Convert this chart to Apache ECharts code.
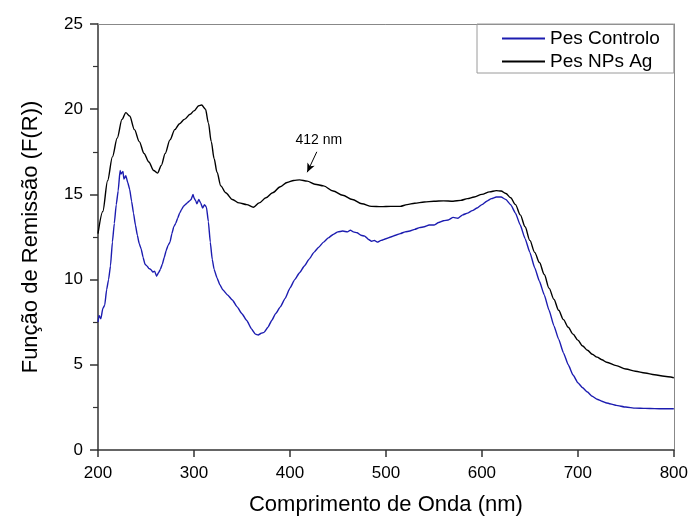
<!DOCTYPE html>
<html><head><meta charset="utf-8">
<script src="https://cdn.jsdelivr.net/npm/echarts@6/dist/echarts.min.js"></script>
<style>html,body{margin:0;padding:0;background:#fff}#c{width:691px;height:521px}</style>
</head><body><div id="c"></div>
<script>
const seriesNames = ['Pes Controlo', 'Pes NPs Ag'];
const xTicks = [200, 300, 400, 500, 600, 700, 800];
const yTicks = [0, 5, 10, 15, 20, 25];
const ctrlX = [200,201,203,205,207,209,211,213,215,217,219,221,223,224,226,227,229,231,233,235,237,239,241,243,245,247,249,251,253,255,257,259,261,263,265,267,269,271,273,275,277,279,281,283,285,287,289,291,293,295,297,299,300,302,303,305,307,309,311,313,315,317,319,321,324,327,330,335,340,345,350,355,360,364,367,370,373,377,381,385,390,395,400,405,410,415,420,425,430,435,440,445,450,455,460,463,466,470,474,478,482,485,488,491,495,500,505,510,515,520,525,530,535,540,545,550,555,560,565,570,575,580,585,590,595,600,605,610,615,620,625,630,635,640,645,650,655,660,665,670,675,680,685,690,695,700,705,710,715,720,725,730,740,750,760,770,780,790,800];
const ctrlY = [7.5,7.9,7.7,8.3,8.5,9.4,10.0,10.8,12.2,13.3,14.4,15.2,16.4,16.2,16.35,15.9,16.1,15.7,15.3,14.6,13.9,13.2,12.6,12.1,11.8,11.3,10.9,10.8,10.65,10.6,10.45,10.5,10.2,10.4,10.6,10.9,11.3,11.7,12.0,12.2,12.7,13.1,13.3,13.6,13.9,14.1,14.3,14.4,14.5,14.6,14.7,15.0,14.8,14.6,14.45,14.7,14.5,14.2,14.4,14.25,13.4,12.2,11.2,10.6,10.1,9.7,9.4,9.1,8.8,8.4,8.0,7.6,7.1,6.8,6.75,6.85,6.9,7.2,7.6,8.0,8.4,8.9,9.5,10.0,10.4,10.8,11.2,11.6,11.9,12.2,12.45,12.65,12.8,12.85,12.8,12.9,12.8,12.75,12.6,12.55,12.35,12.25,12.3,12.2,12.3,12.4,12.5,12.6,12.7,12.8,12.85,12.95,13.05,13.1,13.2,13.2,13.35,13.45,13.5,13.65,13.6,13.8,13.9,14.05,14.2,14.4,14.6,14.75,14.85,14.85,14.7,14.4,13.9,13.2,12.4,11.6,10.7,9.9,9.1,8.2,7.3,6.5,5.7,5.0,4.4,3.95,3.65,3.4,3.15,2.98,2.86,2.76,2.62,2.52,2.46,2.44,2.43,2.42,2.42];
const agX = [200,205,210,215,220,225,229,233,238,243,248,253,258,262,266,270,275,280,285,290,296,300,305,308,312,315,318,321,324,328,333,340,347,355,362,368,375,382,390,397,404,410,418,426,435,445,455,465,475,485,495,505,515,522,530,540,550,560,570,578,585,592,600,608,615,620,625,630,635,640,645,650,655,660,665,670,675,680,685,690,695,700,705,710,715,720,725,730,740,750,760,770,780,790,800];
const agY = [12.7,14.0,15.8,17.2,18.3,19.4,19.8,19.6,18.8,18.1,17.4,16.9,16.4,16.25,16.7,17.4,18.2,18.8,19.15,19.4,19.7,19.9,20.2,20.25,20.0,19.2,18.1,17.1,16.3,15.5,15.1,14.7,14.5,14.4,14.25,14.5,14.8,15.1,15.45,15.7,15.82,15.85,15.78,15.6,15.5,15.2,14.95,14.7,14.45,14.3,14.28,14.3,14.3,14.4,14.48,14.55,14.6,14.62,14.6,14.65,14.75,14.85,15.0,15.15,15.22,15.2,15.05,14.8,14.4,13.8,13.1,12.3,11.6,11.0,10.3,9.5,8.85,8.2,7.65,7.2,6.8,6.45,6.1,5.85,5.62,5.45,5.3,5.15,4.95,4.75,4.62,4.52,4.42,4.33,4.24];
const annText = '412 nm';
const annTail = [428, 17.5];
const annTip = [418, 16.3];
const annLabelPos = [430, 18.2];

const pair = (xs, ys) => xs.map((x, i) => [x, ys[i]]);
const font = 'Liberation Sans, Arial, sans-serif';
const chart = echarts.init(document.getElementById('c'));
chart.setOption({
  animation: false,
  backgroundColor: '#fff',
  grid: { left: 98, right: 17, top: 24, bottom: 67 },
  legend: {
    left: 477, top: 24, orient: 'vertical',
    padding: [5, 14, 2, 25], itemGap: 4,
    itemWidth: 43, itemHeight: 2, icon: 'rect',
    borderColor: '#9a9a9a', borderWidth: 1,
    textStyle: { fontFamily: font, fontSize: 19, color: '#000' },
    data: seriesNames
  },
  xAxis: [{
    type: 'value', min: xTicks[0], max: xTicks[xTicks.length - 1], interval: 100,
    name: 'Comprimento de Onda (nm)', nameLocation: 'middle', nameGap: 44,
    nameTextStyle: { fontFamily: font, fontSize: 22, color: '#000' },
    axisLine: { lineStyle: { color: '#333', width: 1.5 } },
    axisTick: { length: 7, lineStyle: { color: '#333', width: 1.5 } },
    axisLabel: { fontFamily: font, fontSize: 17, color: '#000', margin: 15 },
    splitLine: { show: false }
  }, {
    type: 'value', position: 'top', min: 200, max: 800,
    axisLine: { show: true, onZero: false, lineStyle: { color: '#888', width: 1 } },
    axisTick: { show: false }, axisLabel: { show: false }, splitLine: { show: false }
  }],
  yAxis: [{
    type: 'value', min: yTicks[0], max: yTicks[yTicks.length - 1], interval: 5,
    name: 'Função de Remissão (F(R))', nameLocation: 'middle', nameGap: 56,
    nameTextStyle: { fontFamily: font, fontSize: 22, color: '#000' },
    axisLine: { show: true, lineStyle: { color: '#333', width: 1.5 } },
    axisTick: { show: true, length: 8, lineStyle: { color: '#333', width: 1.5 } },
    minorTick: { show: true, splitNumber: 2, length: 5, lineStyle: { color: '#333', width: 1.2 } },
    axisLabel: { fontFamily: font, fontSize: 17, color: '#000', margin: 15 },
    splitLine: { show: false }
  }, {
    type: 'value', position: 'right', min: 0, max: 25,
    axisLine: { show: true, onZero: false, lineStyle: { color: '#888', width: 1 } },
    axisTick: { show: false }, axisLabel: { show: false }, splitLine: { show: false }
  }],
  series: [{
    name: seriesNames[0], type: 'line', data: pair(ctrlX, ctrlY),
    showSymbol: false, symbol: 'none', color: '#1c1cb0',
    smooth: 0.15, smoothMonotone: 'x',
    lineStyle: { color: '#1c1cb0', width: 1.4 }
  }, {
    name: seriesNames[1], type: 'line', data: pair(agX, agY),
    showSymbol: false, symbol: 'none', color: '#000',
    smooth: 0.3, smoothMonotone: 'x',
    lineStyle: { color: '#000', width: 1.4 },
    markLine: {
      silent: true, symbol: ['none', 'arrow'], symbolSize: [6, 9],
      lineStyle: { color: '#000', width: 1, type: 'solid' },
      label: { show: false },
      data: [[{ coord: annTail }, { coord: annTip }]]
    },
    markPoint: {
      silent: true, symbol: 'circle', symbolSize: 0,
      label: { show: true, formatter: annText, fontFamily: font, fontSize: 14, color: '#000', position: 'inside' },
      data: [{ coord: annLabelPos }]
    }
  }]
});
</script></body></html>
